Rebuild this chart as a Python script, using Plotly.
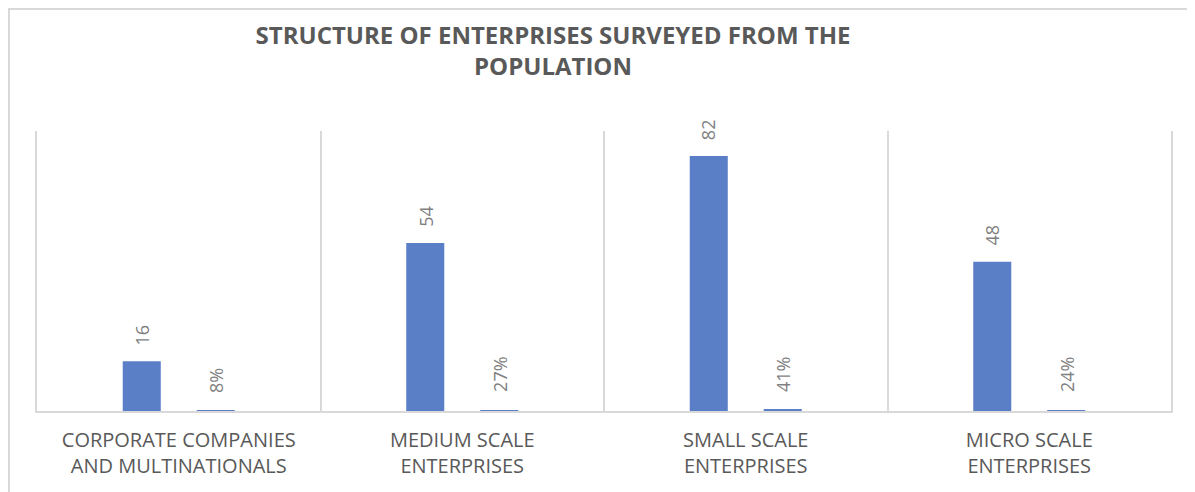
import plotly.graph_objects as go

categories = ["CORPORATE COMPANIES<br>AND MULTINATIONALS", "MEDIUM SCALE<br>ENTERPRISES",
              "SMALL SCALE<br>ENTERPRISES", "MICRO SCALE<br>ENTERPRISES"]
counts = [16, 54, 82, 48]
shares = [0.08, 0.27, 0.41, 0.24]

BLUE = "#5b7fc7"
GRAY_TXT = "#595959"
LABEL_TXT = "#7f7f7f"
GRID = "#d9d9d9"

# page has an 8px body margin, so the figure is sized to fit the window
W, H = 1187, 484
L, R, T, B = 29, 24, 123, 81
pw, ph = W - L - R, H - T - B

fig = go.Figure()
fig.add_trace(go.Bar(x=categories, y=counts, marker_color=BLUE, marker_line_width=0, name="Count"))
fig.add_trace(go.Bar(x=categories, y=shares, marker_color=BLUE, marker_line_width=0, name="Share"))

# offsets of the two bars inside each category group (pixels)
slot = 74
annotations = []
for c, v in zip(categories, counts):
    annotations.append(dict(x=c, y=v, xref="x", yref="y", text=str(v), showarrow=False,
                            textangle=-90, xshift=-slot / 2, yshift=14, yanchor="bottom",
                            font=dict(size=18, color=LABEL_TXT, family="Open Sans")))
for c, v in zip(categories, shares):
    annotations.append(dict(x=c, y=v, xref="x", yref="y", text=f"{round(v * 100)}%", showarrow=False,
                            textangle=-90, xshift=slot / 2, yshift=16, yanchor="bottom",
                            font=dict(size=18, color=LABEL_TXT, family="Open Sans")))

fig.update_layout(
    width=W, height=H,
    margin=dict(l=L, r=R, t=T, b=B, autoexpand=False),
    paper_bgcolor="white", plot_bgcolor="white",
    barmode="group", bargap=0.478, bargroupgap=0.486,
    showlegend=False,
    title=dict(text="<b>STRUCTURE OF ENTERPRISES SURVEYED FROM THE<br>POPULATION</b>",
               x=545 / W, xanchor="center", y=1 - 36 / H, yanchor="top",
               font=dict(size=24, color=GRAY_TXT, family="Open Sans")),
    xaxis=dict(tickson="boundaries", showgrid=True, gridcolor=GRID, gridwidth=1.5,
               showline=True, linecolor=GRID, linewidth=1.5, ticks="", automargin=False,
               ticklabelstandoff=10,
               tickfont=dict(size=20, color=GRAY_TXT, family="Open Sans"), fixedrange=True),
    yaxis=dict(range=[0, 90], showgrid=False, showticklabels=False, zeroline=False,
               showline=True, mirror=True, linecolor=GRID, linewidth=1.5, ticks="",
               automargin=False, fixedrange=True),
    annotations=annotations,
    shapes=[dict(type="rect", xref="paper", yref="paper",
                 x0=(1 - L) / pw, x1=(W + 10 - L) / pw,
                 y0=(H - B - (H + 10)) / ph, y1=(H - B - 1) / ph,
                 line=dict(color=GRID, width=2), fillcolor="rgba(0,0,0,0)", layer="below")],
)
fig.write_html("out.html")
